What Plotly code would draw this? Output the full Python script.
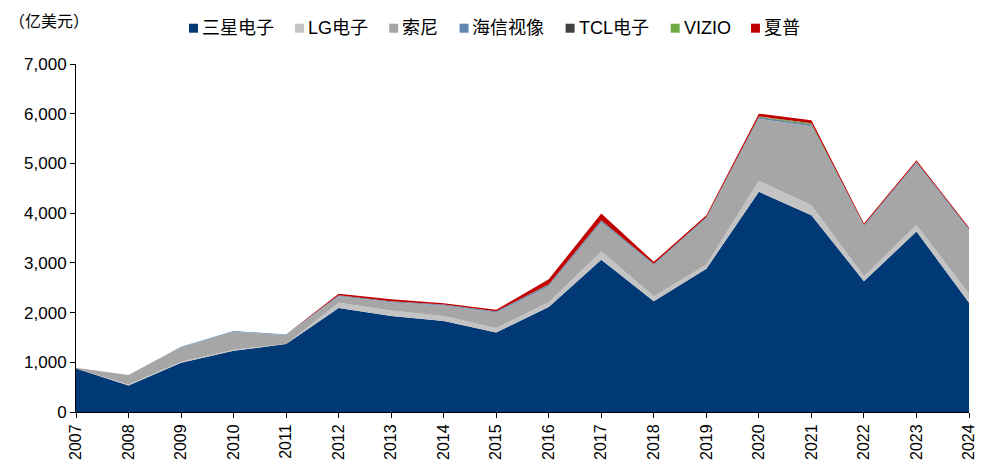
import plotly.graph_objects as go

years = [str(y) for y in range(2007, 2025)]
samsung = [875, 535, 990, 1230, 1370, 2090, 1930, 1830, 1600, 2110, 3060, 2230, 2880, 4430, 3960, 2630, 3630, 2200]
lg      = [0, 20, 20, 20, 0, 110, 110, 100, 90, 100, 170, 100, 80, 220, 200, 100, 130, 180]
sony    = [15, 190, 290, 365, 180, 130, 170, 210, 310, 320, 580, 620, 930, 1250, 1590, 1000, 1240, 1270]
hisense = [0, 0, 10, 15, 10, 15, 15, 15, 20, 25, 30, 20, 20, 25, 25, 20, 25, 25]
tcl     = [0, 0, 0, 0, 0, 5, 5, 5, 5, 10, 10, 5, 5, 10, 10, 5, 5, 5]
vizio   = [0, 0, 0, 0, 0, 0, 0, 0, 0, 5, 5, 5, 5, 10, 25, 5, 5, 5]
sharp   = [0, 0, 0, 0, 0, 30, 40, 30, 30, 100, 140, 40, 40, 55, 60, 30, 30, 25]

names = ["三星电子", "LG电子", "索尼", "海信视像", "TCL电子", "VIZIO", "夏普"]
colors = ["#003976", "#C3C3C3", "#A6A6A6", "#6186B3", "#404040", "#6EAD45", "#C00000"]
values = [samsung, lg, sony, hisense, tcl, vizio, sharp]

# layout geometry (pixels)
W, H = 984, 467
L, R, T, B = 76, 7, 64, 53
PW, PH = W - L - R, H - T - B
legend_left = [190, 297, 392, 463, 570, 676, 757]   # left edge of each swatch
legend_y = 28


def px(x):
    return (x - L) / PW


def py(y):
    return (H - B - y) / PH


fig = go.Figure()
for name, vals, col in zip(names, values, colors):
    fig.add_trace(go.Scatter(
        x=years, y=vals, name=name, mode="none", stackgroup="one",
        fillcolor=col, showlegend=False,
    ))

shapes, annots = [], []
for name, col, lx in zip(names, colors, legend_left):
    shapes.append(dict(type="rect", xref="paper", yref="paper",
                       xsizemode="pixel", ysizemode="pixel",
                       xanchor=px(lx), yanchor=py(legend_y),
                       x0=0, x1=9, y0=-4.5, y1=4.5,
                       fillcolor=col, line=dict(width=0)))
    annots.append(dict(text=name, xref="paper", yref="paper",
                       x=px(lx + 11), y=py(legend_y), xanchor="left", yanchor="middle",
                       showarrow=False,
                       font=dict(family="Liberation Sans, Noto Sans CJK SC", size=18, color="#000")))
annots.append(dict(text="（亿美元）", xref="paper", yref="paper",
                   x=px(6), y=py(20), xanchor="left", yanchor="middle", showarrow=False,
                   font=dict(family="Noto Sans CJK SC", size=16, color="#000")))

fig.update_layout(
    width=W, height=H,
    margin=dict(l=L, r=R, t=T, b=B),
    plot_bgcolor="white", paper_bgcolor="white",
    font=dict(family="Liberation Sans, Arial, sans-serif", size=15, color="#000"),
    showlegend=False,
    shapes=shapes,
    annotations=annots,
)
fig.update_xaxes(type="category", range=[0, len(years) - 1], tickangle=-90,
                 showline=True, linecolor="#000", linewidth=1,
                 ticks="outside", ticklen=5, tickcolor="#000",
                 showgrid=False, tickfont=dict(size=16))
fig.update_yaxes(range=[0, 7000], dtick=1000, tickformat=",",
                 showline=True, linecolor="#000", linewidth=1,
                 ticks="outside", ticklen=5, tickcolor="#000",
                 showgrid=False, zeroline=False, tickfont=dict(size=17))

fig.write_html("out.html", config={"displayModeBar": False},
               post_script="document.body.style.margin='0';document.body.style.overflow='hidden';")
